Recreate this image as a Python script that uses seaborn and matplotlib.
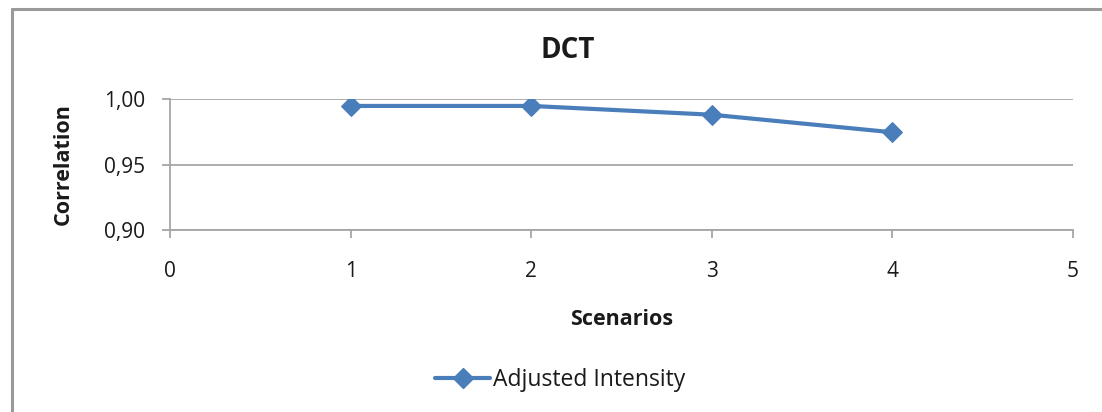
import matplotlib
matplotlib.use("Agg")
import matplotlib.pyplot as plt
from matplotlib.lines import Line2D
import pandas as pd
import seaborn as sns

# Correlation per scenario for the DCT method
scenarios = [1, 2, 3, 4]
adjusted_intensity = [0.9947, 0.9947, 0.988, 0.9746]
series_name = "Adjusted Intensity"

x_ticks = [0, 1, 2, 3, 4, 5]
y_ticks = [0.90, 0.95, 1.00]
y_tick_labels = ["0,90", "0,95", "1,00"]

df = pd.DataFrame({"Scenarios": scenarios, "Correlation": adjusted_intensity,
                   "Series": series_name})

sns.set_theme(style="white")
plt.rcParams["font.family"] = ["Open Sans", "DejaVu Sans"]

blue = "#4a7ebb"
grid_grey = "#a6a6a6"
text_col = "#1a1a1a"

fig = plt.figure(figsize=(11.02, 4.12), dpi=100)
ax = fig.add_axes([170 / 1102, 1 - 230 / 412, (1073 - 170) / 1102, (230 - 99) / 412])

sns.lineplot(data=df, x="Scenarios", y="Correlation", ax=ax, color=blue,
             linewidth=3.0, marker="D", markersize=10.5, markeredgecolor=blue,
             markerfacecolor=blue, legend=False)

ax.set_xlim(0, 5)
ax.set_ylim(0.90, 1.00)
ax.set_xticks(x_ticks)
ax.set_xticklabels([str(v) for v in x_ticks])
ax.set_yticks(y_ticks)
ax.set_yticklabels(y_tick_labels)

ax.yaxis.grid(True, color=grid_grey, linewidth=1.3)
ax.xaxis.grid(False)
ax.set_axisbelow(True)

for side in ("top", "right"):
    ax.spines[side].set_visible(False)
for side in ("left", "bottom"):
    ax.spines[side].set_color(grid_grey)
    ax.spines[side].set_linewidth(1.3)

ax.tick_params(axis="both", which="both", direction="out", length=6, width=1.3,
               color=grid_grey, labelsize=15, labelcolor=text_col)
ax.tick_params(axis="x", bottom=True, pad=16)
ax.tick_params(axis="y", left=True, pad=12)

ax.set_xlabel("Scenarios", fontsize=15.5, fontweight="bold", color=text_col, labelpad=20)
ax.set_ylabel("Correlation", fontsize=15.5, fontweight="bold", color=text_col, labelpad=22)
fig.text(568 / 1102, 1 - 50 / 412, "DCT", fontsize=20, fontweight="bold",
         color=text_col, ha="center", va="center")

handle = Line2D([], [], color=blue, linewidth=3.0, marker="D", markersize=10,
                markerfacecolor=blue, markeredgecolor=blue)
fig.legend([handle], [series_name], loc="center",
           bbox_to_anchor=(560 / 1102, 1 - 380 / 412), frameon=False,
           fontsize=16.5, handlelength=2.4, handletextpad=0.1,
           labelcolor=text_col)

# chart frame edges
fig.add_artist(Line2D([12 / 1102, 12 / 1102], [0, 1 - 9 / 412],
                      transform=fig.transFigure, color="#9a9a9a", linewidth=2.2))
fig.add_artist(Line2D([12 / 1102, 1], [1 - 9 / 412, 1 - 9 / 412],
                      transform=fig.transFigure, color="#9a9a9a", linewidth=2.2))

fig.savefig("out.png", dpi=100)
